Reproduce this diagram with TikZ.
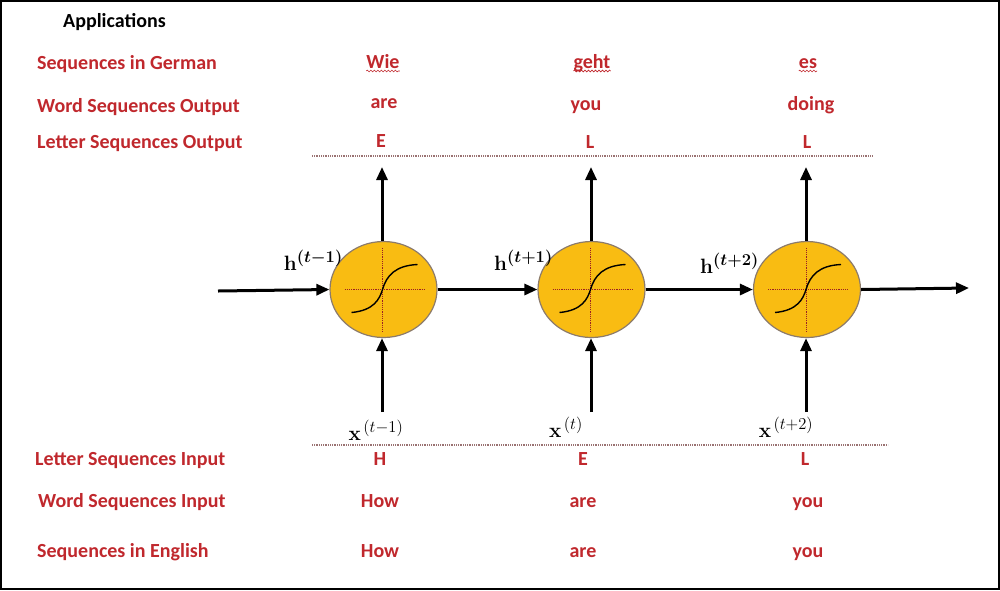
\documentclass[tikz,border=0pt]{standalone}
\usepackage{graphicx}
\usepackage{amsmath,bm}
\usepackage[no-math]{fontspec}
\setmainfont{Carlito}
\usetikzlibrary{arrows.meta,decorations.pathmorphing,shapes.geometric}
\definecolor{lbl}{HTML}{C0282D}
\definecolor{cellfill}{HTML}{F9BC12}
\definecolor{celledge}{HTML}{8C7B6B}
\definecolor{dotc}{HTML}{9A7272}
\newcommand{\supsz}[1]{\mbox{\scalebox{1.15}{\fontsize{15}{17}\selectfont$#1$}}}
\begin{document}
\begin{tikzpicture}[x=1pt,y=-1pt,
  lab/.style={font=\fontsize{20}{23}\selectfont\bfseries, text=lbl, inner sep=0pt},
  rowlab/.style={lab, anchor=base west},
  word/.style={lab, anchor=base},
  cell/.style={ellipse, draw=celledge, line width=1.2pt, fill=cellfill, minimum width=107pt, minimum height=96pt, inner sep=0pt},
  flow/.style={line width=3pt, -{Triangle[length=13pt,width=11pt]}},
  sep/.style={dotc, line width=1.3pt, dash pattern=on 1pt off 0.8pt},
  axis/.style={lbl!80!black, line width=0.8pt, dash pattern=on 1.2pt off 1pt},
  sig/.style={black, line width=1.4pt},
  squig/.style={lbl, line width=0.6pt, decorate, decoration={snake, amplitude=0.9pt, segment length=3.5pt}},
  mlab/.style={font=\fontsize{21}{25}\selectfont, inner sep=0pt}
]
\useasboundingbox (0,0) rectangle (1000,590);
\draw[line width=2pt] (1,1) rectangle (999,589);

% title
\node[font=\fontsize{20}{23}\selectfont\bfseries, inner sep=0pt, anchor=base west] (title) at (63,27) {Applications};

% row labels
\node[rowlab] (rGer) at (37,69) {Sequences in German};
\node[rowlab] (rWO) at (37,112) {Word Sequences Output};
\node[rowlab] (rLO) at (37,148) {Letter Sequences Output};
\node[rowlab] (rLI) at (35,465) {Letter Sequences Input};
\node[rowlab] (rWI) at (38,507) {Word Sequences Input};
\node[rowlab] (rEng) at (37,557) {Sequences in English};

% top words
\node[word] (g1) at (383,68) {Wie};
\node[word] (g2) at (592,68) {geht};
\node[word] (g3) at (808,68) {es};
\draw[squig] ([yshift=-3pt]g1.base west) -- ([yshift=-3pt]g1.base east);
\draw[squig] ([yshift=-3pt]g2.base west) -- ([yshift=-3pt]g2.base east);
\draw[squig] ([yshift=-3pt]g3.base west) -- ([yshift=-3pt]g3.base east);
\node[word] (wo1) at (384,108) {are};
\node[word] (wo2) at (586,110) {you};
\node[word] (wo3) at (811,110) {doing};
\node[word] (lo1) at (381,147) {E};
\node[word] (lo2) at (590,148) {L};
\node[word] (lo3) at (807,148) {L};

% bottom words
\node[word] (li1) at (380,465) {H};
\node[word] (li2) at (583,465) {E};
\node[word] (li3) at (805,465) {L};
\node[word] (wi1) at (380,507) {How};
\node[word] (wi2) at (583,507) {are};
\node[word] (wi3) at (808,507) {you};
\node[word] (e1) at (380,557) {How};
\node[word] (e2) at (583,557) {are};
\node[word] (e3) at (808,557) {you};

% separators
\coordinate (s1a) at (312,156); \coordinate (s1b) at (872,156);
\coordinate (s2a) at (312,445); \coordinate (s2b) at (888,445);
\draw[sep] (s1a) -- (s1b);
\draw[sep] (s2a) -- (s2b);

% cells
\node[cell] (c1) at (383.5,289.5) {};
\node[cell] (c2) at (591.5,289.5) {};
\node[cell] (c3) at (807,289.5) {};

% inside: axes and sigmoid
\foreach \c in {c1,c2,c3}{
  \begin{scope}[shift={(\c.center)}]
    \draw[axis] (-39,0) -- (42,0);
    \draw[axis] (-1,-42) -- (-1,43);
    \draw[sig] (-32,23) .. controls (-10,21) and (-4,10) .. (-1,0)
               .. controls (3,-14) and (12,-24) .. (34,-25);
  \end{scope}
}

% connectors
\coordinate (in0) at (218,291);
\coordinate (out4) at (969,288);
\draw[flow] (in0) -- (c1.west);
\draw[flow] (c1.east) -- (c2.west);
\draw[flow] (c2.east) -- (c3.west);
\draw[flow] (c3.east) -- (out4);

\coordinate (u1) at (382,167); \coordinate (u2) at (591,167); \coordinate (u3) at (806,167);
\draw[flow] (c1.north -| u1) -- (u1);
\draw[flow] (c2.north -| u2) -- (u2);
\draw[flow] (c3.north -| u3) -- (u3);

\coordinate (b1) at (382,412); \coordinate (b2) at (591,412); \coordinate (b3) at (806,412);
\draw[flow] (b1) -- (b1 |- c1.south);
\draw[flow] (b2) -- (b2 |- c2.south);
\draw[flow] (b3) -- (b3 |- c3.south);

% math labels
\node[mlab, anchor=base east] (h1) at (343,270) {$\mathbf{h}^{\supsz{\boldsymbol{(t{-}1)}}}$};
\node[mlab, anchor=base east] (h2) at (553,270) {$\mathbf{h}^{\supsz{\boldsymbol{(t{+}1)}}}$};
\node[mlab, anchor=base east] (h3) at (759,273) {$\mathbf{h}^{\supsz{\boldsymbol{(t{+}2)}}}$};
\node[mlab, anchor=base] (x1) at (376,440) {$\mathbf{x}^{\,\supsz{(t{-}1)}}$};
\node[mlab, anchor=base] (x2) at (566,437) {$\mathbf{x}^{\,\supsz{(t)}}$};
\node[mlab, anchor=base] (x3) at (786,437) {$\mathbf{x}^{\,\supsz{(t{+}2)}}$};
\end{tikzpicture}
\end{document}
